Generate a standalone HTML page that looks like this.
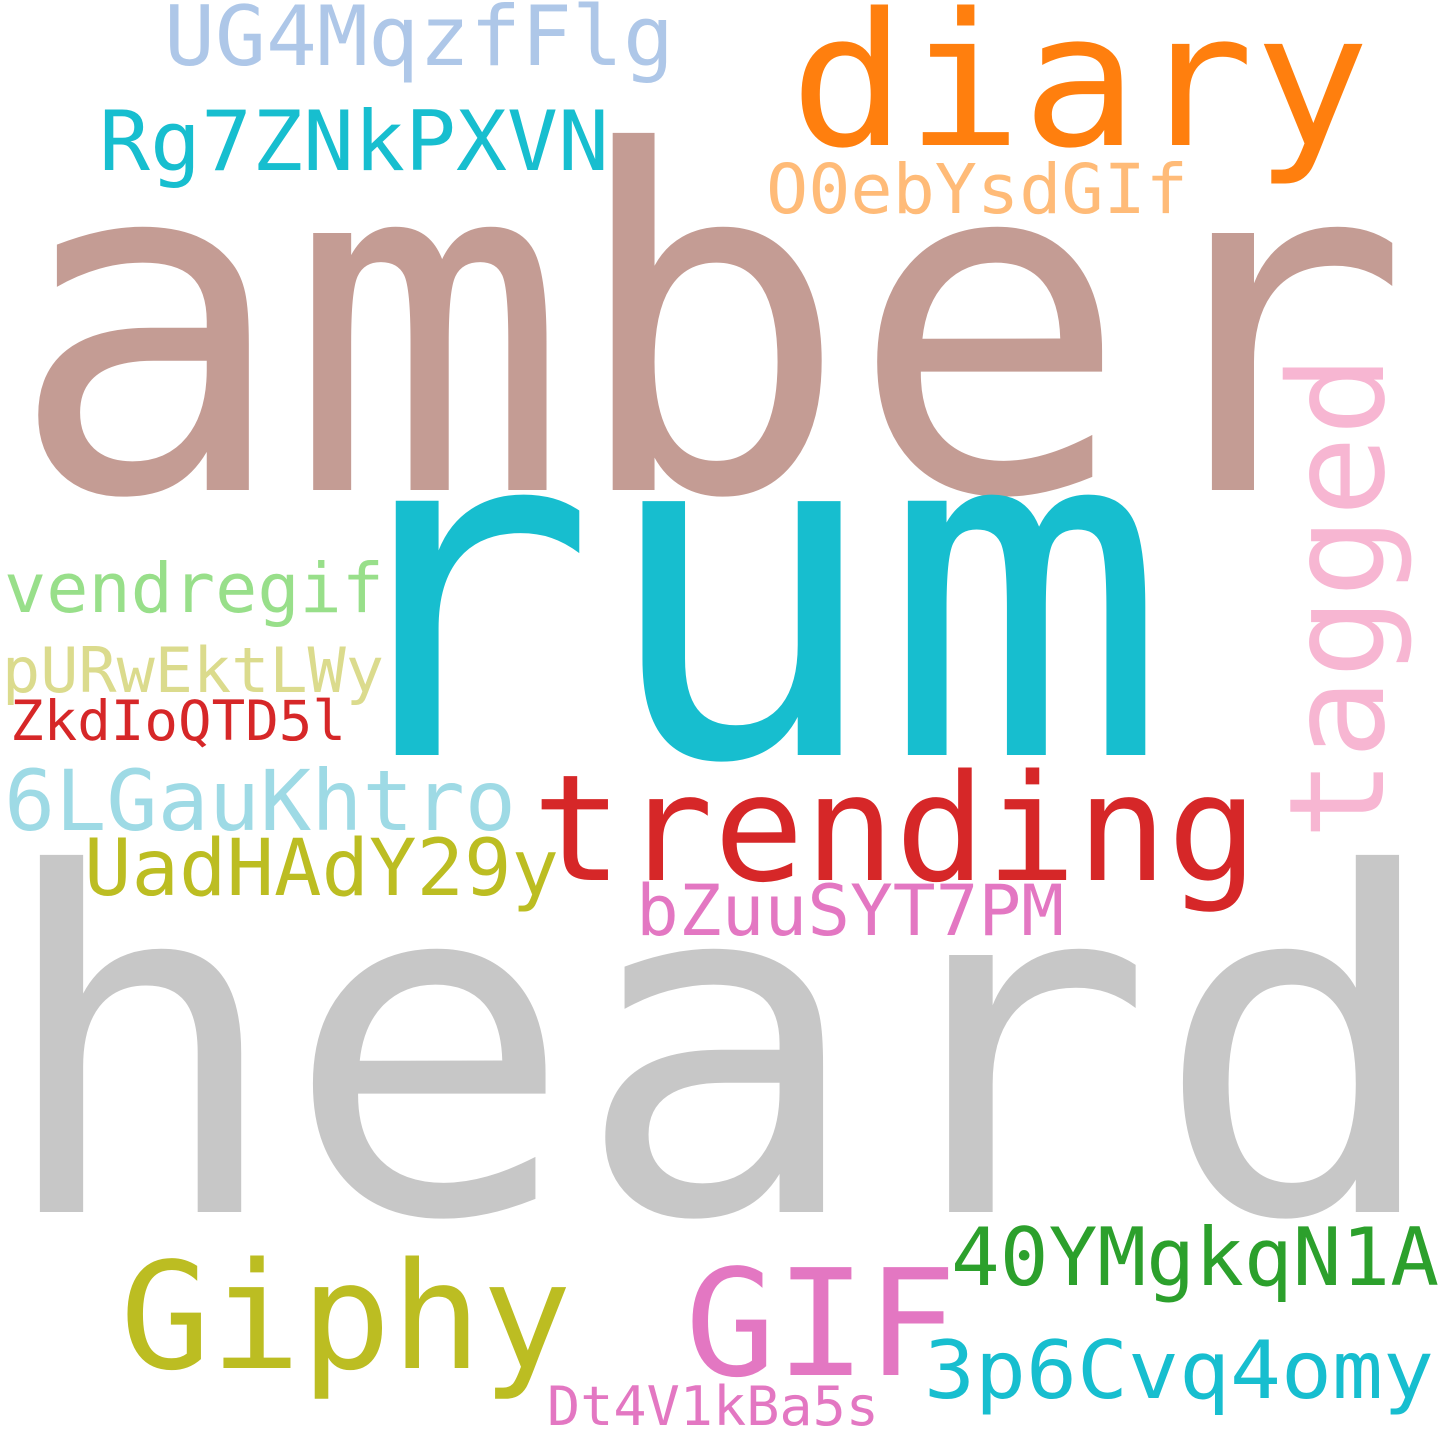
<!DOCTYPE html>
<html>
<head>
<meta charset="utf-8">
<style>
  html,body{margin:0;padding:0;background:#fff;}
  svg{display:block;}
  text{font-family:"DejaVu Sans Mono","Liberation Mono",monospace;}
</style>
</head>
<body>
<svg width="1440" height="1440" viewBox="0 0 1440 1440">
  <rect width="1440" height="1440" fill="#ffffff"/>
  <text x="8" y="490" font-size="470" fill="#c49c94" textLength="1402" lengthAdjust="spacingAndGlyphs">amber</text>
  <text x="-6" y="1212" font-size="470" fill="#c7c7c7" textLength="1450" lengthAdjust="spacingAndGlyphs">heard</text>
  <text x="312" y="755" font-size="465" fill="#17becf" textLength="856" lengthAdjust="spacingAndGlyphs">rum</text>
  <text x="790" y="145" font-size="185" fill="#ff7f0e" textLength="580" lengthAdjust="spacingAndGlyphs">diary</text>
  <text transform="translate(1383,840) rotate(-90)" x="0" y="0" font-size="132" fill="#f7b6d2" textLength="485" lengthAdjust="spacingAndGlyphs">tagged</text>
  <text x="532" y="880" font-size="148" fill="#d62728" textLength="726" lengthAdjust="spacingAndGlyphs">trending</text>
  <text x="120" y="1368" font-size="148" fill="#bcbd22" textLength="452" lengthAdjust="spacingAndGlyphs">Giphy</text>
  <text x="685" y="1375" font-size="148" fill="#e377c2" textLength="272" lengthAdjust="spacingAndGlyphs">GIF</text>
  <text x="951" y="1285" font-size="80" fill="#2ca02c" textLength="488" lengthAdjust="spacingAndGlyphs">40YMgkqN1A</text>
  <text x="924" y="1398" font-size="80" fill="#17becf" textLength="510" lengthAdjust="spacingAndGlyphs">3p6Cvq4omy</text>
  <text x="547" y="1425" font-size="54" fill="#e377c2" textLength="332" lengthAdjust="spacingAndGlyphs">Dt4V1kBa5s</text>
  <text x="636" y="935" font-size="70" fill="#e377c2" textLength="428" lengthAdjust="spacingAndGlyphs">bZuuSYT7PM</text>
  <text x="84" y="895" font-size="78" fill="#bcbd22" textLength="475" lengthAdjust="spacingAndGlyphs">UadHAdY29y</text>
  <text x="4" y="830" font-size="84" fill="#9edae5" textLength="512" lengthAdjust="spacingAndGlyphs">6LGauKhtro</text>
  <text x="10" y="740" font-size="55" fill="#d62728" textLength="336" lengthAdjust="spacingAndGlyphs">ZkdIoQTD5l</text>
  <text x="2" y="692" font-size="62" fill="#dbdb8d" textLength="382" lengthAdjust="spacingAndGlyphs">pURwEktLWy</text>
  <text x="4" y="612" font-size="69" fill="#98df8a" textLength="380" lengthAdjust="spacingAndGlyphs">vendregif</text>
  <text x="99" y="170" font-size="83" fill="#17becf" textLength="510" lengthAdjust="spacingAndGlyphs">Rg7ZNkPXVN</text>
  <text x="164" y="65" font-size="83" fill="#aec7e8" textLength="510" lengthAdjust="spacingAndGlyphs">UG4MqzfFlg</text>
  <text x="766" y="213" font-size="69" fill="#ffbb78" textLength="422" lengthAdjust="spacingAndGlyphs">O0ebYsdGIf</text>
</svg>
</body>
</html>
